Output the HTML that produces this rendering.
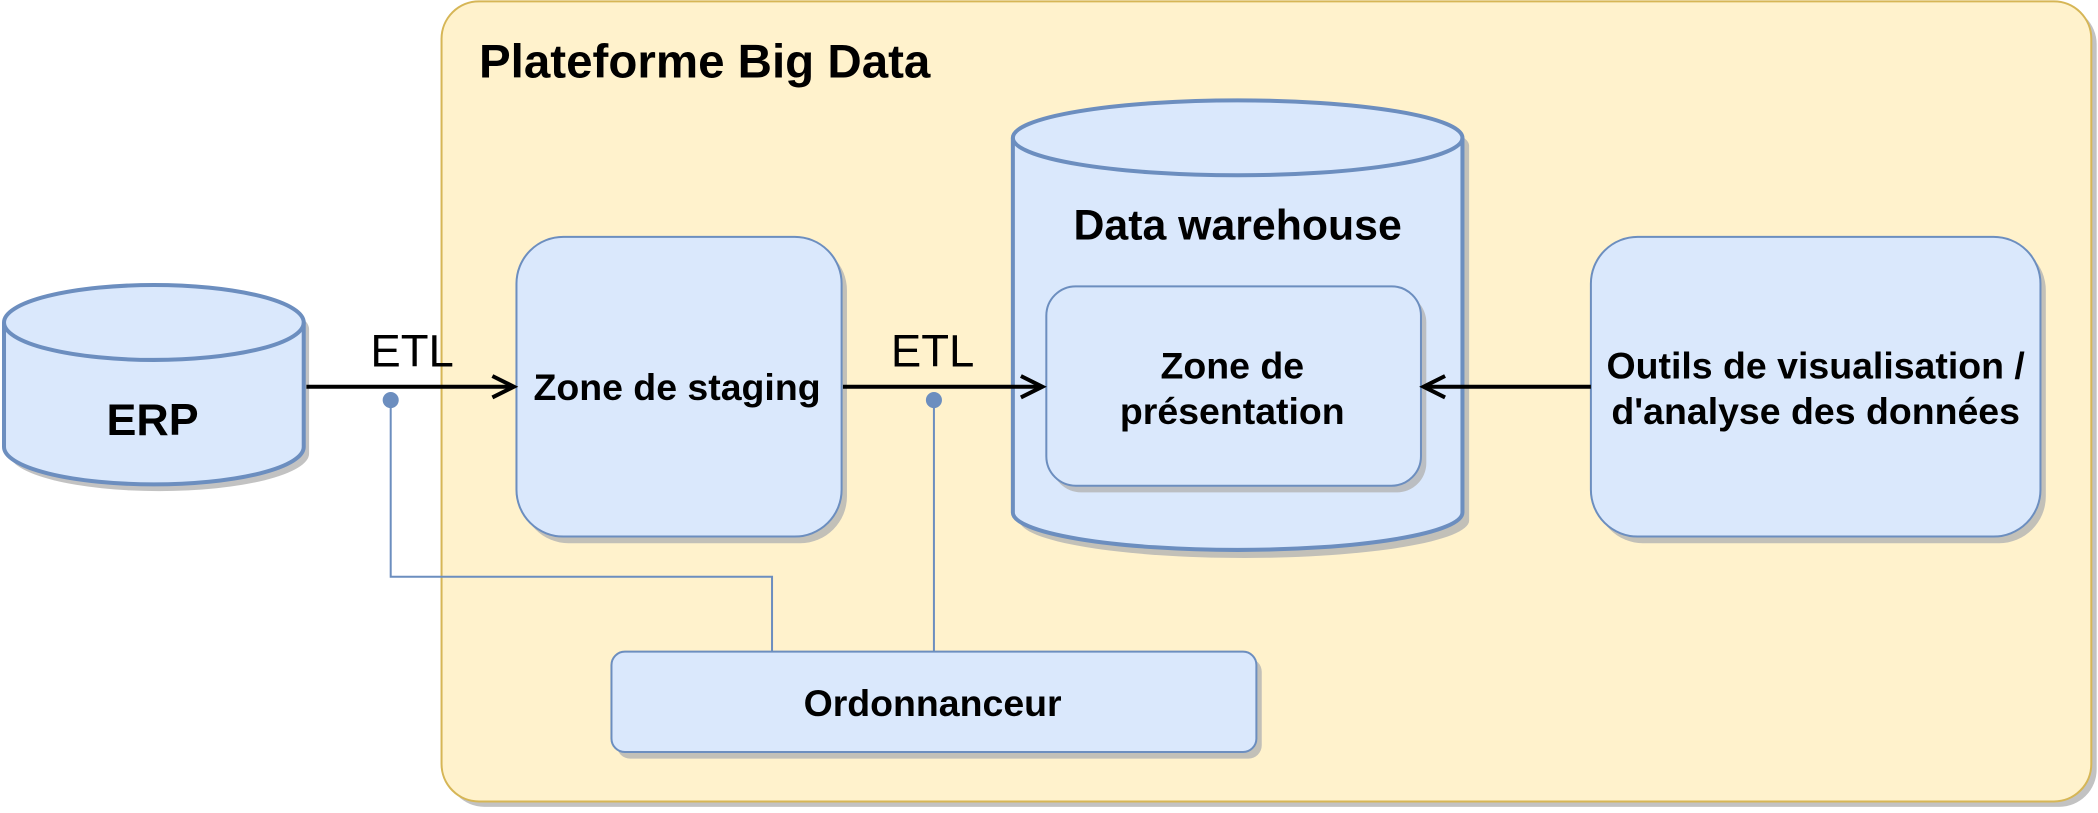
<!DOCTYPE html>
<html><head><meta charset="utf-8"><style>html,body{margin:0;padding:0;background:#fff}svg{display:block}</style></head><body>
<svg width="2098" height="813" viewBox="0 0 1568 607.6" preserveAspectRatio="none" xmlns="http://www.w3.org/2000/svg" font-family="Liberation Sans, sans-serif">
<!-- container -->
<rect x="334" y="5" width="1233" height="598" rx="28" fill="#b3b3b3" opacity="0.8"/>
<rect x="330" y="1" width="1233" height="598" rx="28" fill="#fff2cc" stroke="#d6b656" stroke-width="1.5"/>
<text x="358" y="58" font-size="35.5" font-weight="bold">Plateforme Big Data</text>
<!-- ERP -->
<g transform="translate(4,5)" fill="#b3b3b3" stroke="none" opacity="0.8"><path d="M3 241 A112 28 0 0 1 227 241 V334 A112 28 0 0 1 3 334 Z"/></g>
<path d="M3 241 A112 28 0 0 1 227 241 V334 A112 28 0 0 1 3 334 Z" fill="#dae8fc" stroke="#6c8ebf" stroke-width="3"/>
<path d="M3 241 A112 28 0 0 0 227 241" fill="none" stroke="#6c8ebf" stroke-width="3"/>
<text x="114" y="325" font-size="33.5" font-weight="bold" text-anchor="middle">ERP</text>
<!-- staging -->
<rect x="390" y="182" width="243" height="224" rx="35" fill="#b3b3b3" opacity="0.8"/>
<rect x="386" y="177" width="243" height="224" rx="35" fill="#dae8fc" stroke="#6c8ebf" stroke-width="1.5"/>
<text x="506" y="299" font-size="28" font-weight="bold" text-anchor="middle">Zone de staging</text>
<!-- DW -->
<path transform="translate(5,6)" d="M757 103 A168 28 0 0 1 1093 103 V383 A168 28 0 0 1 757 383 Z" fill="#b3b3b3" opacity="0.8"/>
<path d="M757 103 A168 28 0 0 1 1093 103 V383 A168 28 0 0 1 757 383 Z" fill="#dae8fc" stroke="#6c8ebf" stroke-width="3"/>
<path d="M757 103 A168 28 0 0 0 1093 103" fill="none" stroke="#6c8ebf" stroke-width="3"/>
<text x="925" y="179" font-size="32" font-weight="bold" text-anchor="middle">Data warehouse</text>
<rect x="786" y="219" width="280" height="149" rx="22" fill="#b3b3b3" opacity="0.8"/>
<rect x="782" y="214" width="280" height="149" rx="22" fill="#dae8fc" stroke="#6c8ebf" stroke-width="1.5"/>
<text x="921" y="283" font-size="28" font-weight="bold" text-anchor="middle">Zone de</text>
<text x="921" y="317" font-size="28" font-weight="bold" text-anchor="middle">présentation</text>
<!-- outils -->
<rect x="1193" y="182" width="336" height="224" rx="35" fill="#b3b3b3" opacity="0.8"/>
<rect x="1189" y="177" width="336" height="224" rx="35" fill="#dae8fc" stroke="#6c8ebf" stroke-width="1.5"/>
<text x="1357" y="283" font-size="28" font-weight="bold" text-anchor="middle">Outils de visualisation /</text>
<text x="1357" y="317" font-size="28" font-weight="bold" text-anchor="middle">d'analyse des données</text>
<!-- ordonnanceur -->
<rect x="461" y="492" width="482" height="75" rx="10" fill="#b3b3b3" opacity="0.8"/>
<rect x="457" y="487" width="482" height="75" rx="10" fill="#dae8fc" stroke="#6c8ebf" stroke-width="1.5"/>
<text x="697" y="535" font-size="28" font-weight="bold" text-anchor="middle">Ordonnanceur</text>
<!-- arrows -->
<g stroke="#000" stroke-width="3" fill="none">
<line x1="229" y1="289" x2="384" y2="289"/><path d="M368 281 L384 289 L368 297"/>
<line x1="630" y1="289" x2="779" y2="289"/><path d="M763 281 L779 289 L763 297"/>
<line x1="1189" y1="289" x2="1064" y2="289"/><path d="M1080 281 L1064 289 L1080 297"/>
</g>
<text x="308" y="274" font-size="34" text-anchor="middle">ETL</text>
<text x="697" y="274" font-size="34" text-anchor="middle">ETL</text>
<g stroke="#6c8ebf" stroke-width="1.5" fill="none">
<polyline points="292,299 292,431 577,431 577,487"/>
<line x1="698" y1="299" x2="698" y2="487"/>
</g>
<circle cx="292" cy="299" r="6" fill="#6c8ebf"/>
<circle cx="698" cy="299" r="6" fill="#6c8ebf"/>
</svg>
</body></html>
